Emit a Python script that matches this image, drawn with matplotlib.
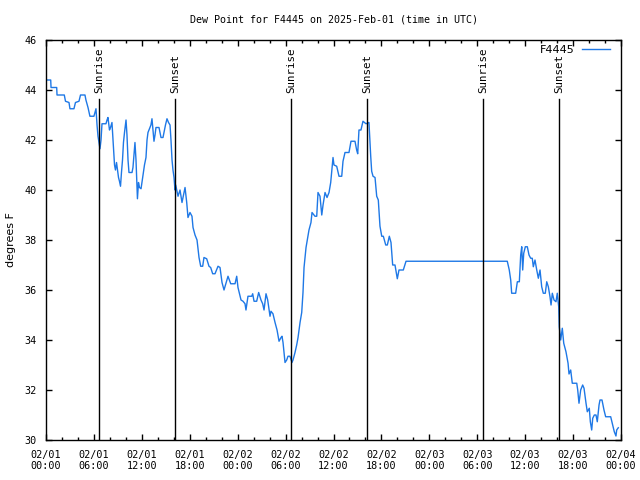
import numpy as np
import matplotlib
matplotlib.use("Agg")
import matplotlib.pyplot as plt
import matplotlib.dates as mdates

# hours after 2025-02-01 00:00 UTC, dew point in F
hours = [0.2, 0.59, 0.63, 1.34, 1.38, 2.29, 2.44, 2.88, 3.0, 3.5, 3.69, 4.13, 4.32, 4.88,
         5.0, 5.26, 5.5, 6.0, 6.13, 6.26, 6.39, 6.51, 6.64, 6.76, 6.89, 7.01, 7.51, 7.64,
         7.76, 7.95, 8.08, 8.26, 8.39, 8.58, 8.7, 8.83, 8.95, 9.08, 9.2, 9.33, 9.45, 9.58,
         9.7, 9.83, 9.95, 10.02, 10.14, 10.27, 10.39, 10.77, 10.89, 11.02, 11.14, 11.27,
         11.39, 11.45, 11.58, 11.71, 11.9, 12.02, 12.15, 12.33, 12.52, 12.65, 12.77, 13.02,
         13.14, 13.27, 13.4, 13.52, 13.65, 13.77, 14.15, 14.27, 14.4, 14.65, 14.77, 14.96,
         15.15, 15.34, 15.53, 15.65, 15.78, 15.9, 16.03, 16.15, 16.24, 16.53, 16.78, 17.03,
         17.41, 17.62, 17.78, 18.03, 18.28, 18.41, 18.66, 18.91, 19.16, 19.37, 19.62, 19.78,
         20.12, 20.41, 20.62, 20.87, 21.16, 21.54, 21.79, 22.04, 22.29, 22.79, 23.13, 23.67,
         23.88, 24.04, 24.42, 24.67, 24.92, 25.04, 25.29, 25.76, 25.88, 26.05, 26.38, 26.63,
         26.92, 27.13, 27.3, 27.55, 27.76, 28.05, 28.17, 28.42, 28.68, 28.93, 29.18, 29.43,
         29.55, 29.68, 29.93, 30.14, 30.3, 30.55, 30.8, 30.93, 31.18, 31.39, 31.56, 31.81,
         32.02, 32.18, 32.31, 32.56, 32.77, 32.93, 33.18, 33.31, 33.68, 33.9, 34.06, 34.31,
         34.53, 34.69, 34.94, 35.19, 35.44, 35.65, 35.78, 35.94, 36.06, 36.4, 36.69, 37.03,
         37.19, 37.44, 37.94, 38.19, 38.69, 38.9, 39.03, 39.19, 39.44, 39.69, 40.07, 40.44,
         40.66, 40.78, 40.95, 41.2, 41.41, 41.61, 41.82, 42.04, 42.24, 42.54, 42.74, 42.99,
         43.2, 43.41, 43.7, 43.99, 44.2, 44.74, 45.08, 57.76, 58.01, 58.19, 58.31, 58.81,
         59.02, 59.27, 59.44, 59.57, 59.69, 59.82, 60.02, 60.27, 60.48, 60.69, 60.89, 61.02,
         61.23, 61.45, 61.65, 61.86, 62.07, 62.27, 62.52, 62.7, 62.9, 63.11, 63.24, 63.4,
         63.61, 63.86, 64.02, 64.2, 64.27, 64.45, 64.65, 64.83, 65.11, 65.37, 65.49, 65.7,
         65.9, 66.46, 66.58, 66.74, 66.95, 67.2, 67.37, 67.62, 67.78, 68.03, 68.16, 68.33,
         68.46, 68.66, 68.87, 69.03, 69.25, 69.37, 69.62, 69.87, 70.08, 70.71, 70.91, 71.16,
         71.37, 71.46, 71.66]
dewpt = [44.4, 44.4, 44.1, 44.1, 43.8, 43.8, 43.55, 43.5, 43.25, 43.25, 43.5, 43.55, 43.8, 43.8,
         43.6, 43.3, 42.95, 42.95, 43.1, 43.25, 42.6, 42.15, 41.9, 41.65, 42.0, 42.65, 42.65, 42.8,
         42.9, 42.4, 42.5, 42.7, 42.0, 41.0, 40.8, 41.1, 40.8, 40.5, 40.35, 40.15, 40.7, 41.2,
         41.9, 42.3, 42.6, 42.8, 42.2, 41.2, 40.7, 40.7, 40.9, 41.4, 41.9, 41.2,
         40.2, 39.65, 40.3, 40.1, 40.05, 40.3, 40.6, 41.0, 41.3, 42.0, 42.3, 42.5,
         42.6, 42.85, 42.4, 41.95, 42.2, 42.5, 42.5, 42.3, 42.1, 42.1, 42.3, 42.6,
         42.85, 42.7, 42.6, 42.0, 41.2, 40.8, 40.5, 40.0, 40.2, 39.75, 40.0, 39.5,
         40.1, 39.5, 38.9, 39.1, 38.95, 38.5, 38.2, 38.0, 37.3, 36.95, 36.95, 37.3,
         37.25, 36.95, 36.9, 36.65, 36.65, 36.95, 36.9, 36.3, 36.0, 36.55, 36.25, 36.25,
         36.55, 36.1, 35.6, 35.55, 35.45, 35.2, 35.75, 35.75, 35.85, 35.55, 35.55, 35.9,
         35.6, 35.45, 35.2, 35.85, 35.6, 34.95, 35.15, 35.05, 34.7, 34.4, 33.95, 34.1,
         34.15, 33.9, 33.1, 33.2, 33.35, 33.35, 33.1, 33.2, 33.5, 33.8, 34.1, 34.7,
         35.1, 35.9, 36.9, 37.7, 38.1, 38.4, 38.7, 39.1, 38.95, 38.95, 39.9, 39.75,
         39.0, 39.4, 39.9, 39.7, 39.9, 40.3, 40.75, 41.3, 41.0, 40.95, 40.55, 40.55,
         41.15, 41.5, 41.5, 41.95, 41.95, 41.6, 41.45, 42.4, 42.4, 42.75, 42.65, 42.7,
         41.35, 40.75, 40.55, 40.5, 39.75, 39.6, 38.55, 38.15, 38.15, 37.8, 37.8, 38.15,
         37.9, 37.0, 37.0, 36.45, 36.8, 36.8, 37.15, 37.15, 36.8, 36.4, 35.87, 35.87,
         36.33, 36.33, 37.4, 37.73, 36.8, 37.47, 37.73, 37.73, 37.4, 37.27, 37.27, 36.93,
         37.2, 36.8, 36.47, 36.8, 36.13, 35.87, 35.87, 36.33, 36.13, 35.73, 35.4, 35.87,
         35.6, 35.53, 35.87, 35.33, 34.53, 34.0, 34.47, 33.87, 33.53, 33.07, 32.64, 32.8,
         32.27, 32.27, 32.0, 31.47, 32.0, 32.2, 32.07, 31.47, 31.13, 31.27, 30.73, 30.4,
         30.87, 31.0, 31.0, 30.73, 31.4, 31.6, 31.6, 31.2, 30.93, 30.93, 30.67, 30.33,
         30.16, 30.4, 30.49]

sun_times = ["2025-02-01T06:38", "2025-02-01T16:09", "2025-02-02T06:41",
             "2025-02-02T16:12", "2025-02-03T06:43", "2025-02-03T16:14"]
sun_labels = ["Sunrise", "Sunset", "Sunrise", "Sunset", "Sunrise", "Sunset"]

base = np.datetime64("2025-02-01T00:00")
t = base + (np.array(hours) * 3600).astype("timedelta64[s]")

mono = "DejaVu Sans Mono"
fig = plt.figure(figsize=(6.4, 4.8), dpi=100)
ax = fig.add_axes([46 / 640, 40 / 480, 575 / 640, 400 / 480])

ax.plot(t, dewpt, color="#1e78e6", lw=1, label="F4445")

for st, lab in zip(sun_times, sun_labels):
    x = np.datetime64(st)
    ax.axvline(x, ymin=0, ymax=341 / 400, color="black", lw=1)
    ax.text(x, 0.8675, lab, rotation=90, ha="center", va="bottom",
            transform=ax.get_xaxis_transform(), fontsize=7.8, family=mono)

ax.set_xlim(np.datetime64("2025-02-01T00:00"), np.datetime64("2025-02-04T00:00"))
ax.set_ylim(30, 46)
ax.set_yticks(np.arange(30, 47, 2))
ax.xaxis.set_major_locator(mdates.HourLocator(byhour=[0, 6, 12, 18]))
ax.xaxis.set_minor_locator(mdates.HourLocator(byhour=range(0, 24, 2)))
ax.xaxis.set_major_formatter(mdates.DateFormatter("%m/%d\n%H:%M"))

ax.tick_params(which="both", direction="in", top=True, right=True, width=1)
ax.tick_params(which="major", length=4.5, labelsize=7.3, pad=7)
ax.tick_params(which="minor", length=2.5)
for lbl in ax.get_xticklabels() + ax.get_yticklabels():
    lbl.set_family(mono)
for sp in ax.spines.values():
    sp.set_linewidth(1)

ax.set_title("Dew Point for F4445 on 2025-Feb-01 (time in UTC)", fontsize=7.2, family=mono, pad=12.5)
fig.text(11 / 640, 0.5, "degrees F", rotation=90, ha="center", va="center", fontsize=8)
ax.legend(loc="upper right", frameon=False, markerfirst=False, handlelength=2.5,
          handletextpad=0.7, borderaxespad=0, borderpad=0,
          bbox_to_anchor=(610 / 640, (480 - 45) / 480), bbox_transform=fig.transFigure,
          prop={"family": "DejaVu Sans", "size": 8})

fig.savefig("out.png", dpi=100)
